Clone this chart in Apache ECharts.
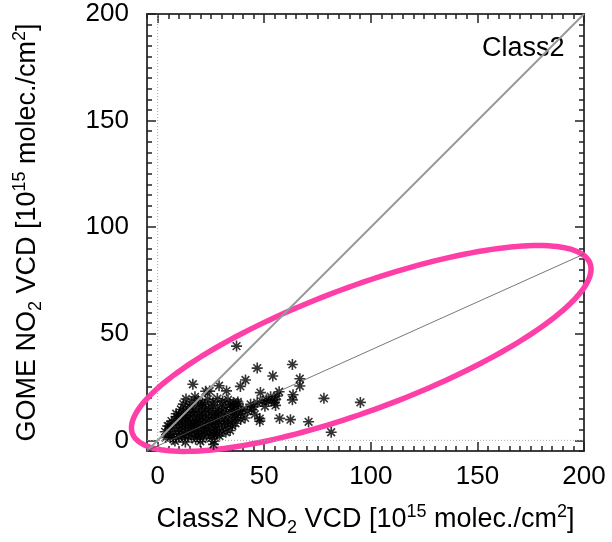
<!DOCTYPE html>
<html>
<head>
<meta charset="utf-8">
<script src="https://cdn.jsdelivr.net/npm/echarts@6/dist/echarts.min.js"></script>
<style>
html, body { margin: 0; padding: 0; background: #fff; }
#chart { width: 612px; height: 542px; }
</style>
</head>
<body>
<div id="chart"></div>
<script>
// axis ticks
var majorTicks = [0, 50, 100, 150, 200];
var axisMin = -5;
var axisMax = 200;

// Class2 vs GOME NO2 VCD points [class2, gome]
var points = [
  [37.0, 44.2], [16.5, 26.3], [46.7, 33.9], [63.2, 35.6], [54.0, 30.2], [41.2, 28.3],
  [38.8, 25.3], [66.7, 28.9], [66.7, 25.5], [28.8, 25.6], [32.3, 23.2], [24.4, 23.1],
  [13.3, 19.4], [17.5, 20.4], [22.5, 23.0], [78.0, 19.7], [95.1, 17.8], [63.5, 21.4],
  [63.2, 19.0], [57.0, 22.8], [54.9, 19.0], [48.2, 22.4], [50.3, 16.0], [46.7, 17.7],
  [45.1, 15.8], [47.9, 10.2], [47.9, 9.0], [57.2, 10.3], [62.3, 9.7], [70.8, 8.7],
  [81.4, 3.8], [37.6, 18.0], [37.8, 17.2], [43.6, 16.9], [45.6, 12.2], [10.9, 14.5],
  [4.7, 6.7], [7.4, 0.5], [26.4, -0.3], [26.2, -1.9], [17.8, 0.5], [8.1, -0.3],
  [3.7, 1.3], [8.7, 12.5], [5.3, 6.7], [55.3, 16.4], [54.8, 17.7],
  [52, 18.5], [53, 20.5], [56, 20.8], [51, 19], [49, 18.2], [44, 14.5], [42, 13.8],
  [40, 14.6], [39, 12.5], [36, 13.5], [35, 15.5],
  [10, 1.5], [12, 0.8], [14, 2], [16, 1.2], [19, 1.8], [21, 0.6], [23, 2.2], [25, 1.0],
  [26.5, 2.5], [13, -0.8], [20, -0.5], [6, 1.5],
  [7, 3], [9, 4], [11, 2.8], [12.5, 4.5], [14.5, 3.5], [16, 4.8], [17.5, 3], [19, 4.2],
  [20.5, 2.9], [22, 4.6], [24, 3.5], [26, 4.2], [28, 3], [30, 4.5], [27, 5], [32, 3.8],
  [34, 4.6], [29, 2],
  [6, 6], [8, 7], [10, 5.5], [11.5, 7.5], [13, 6.2], [14.5, 7.8], [16, 5.8], [17, 7.2],
  [18.5, 6.3], [20, 7.9], [21.5, 5.6], [23, 7.1], [24.5, 6], [26, 7.6], [27.5, 6.4],
  [29, 7.8], [31, 6.5], [33, 7.4], [35, 6.8], [36.5, 8],
  [8, 9.5], [10, 8.5], [11.5, 10.4], [13, 9], [14, 10.8], [15.5, 8.7], [17, 10], [18, 8.4],
  [19.5, 9.6], [21, 10.9], [22.5, 8.9], [24, 10.2], [25.5, 8.6], [27, 10.6], [28.5, 9.2],
  [30, 10.9], [31.5, 8.8], [33, 10.1], [35, 9.5], [37, 10.8], [39, 9.8], [41, 10.5],
  [10, 12], [12, 13], [13.5, 11.5], [15, 13.6], [16.5, 12], [18, 13.2], [19.5, 11.6],
  [21, 13.5], [22.5, 12.2], [24, 13.8], [25.5, 11.7], [27, 13], [28.5, 12.3], [30, 13.9],
  [32, 12.6], [34, 13.4], [36, 12], [38, 14.2],
  [13, 15], [15, 16], [17, 14.6], [19, 16.5], [20.5, 15.2], [22, 16.8], [24, 15], [26, 16.3],
  [28, 14.8], [30, 16.6], [32, 15.4], [34, 16.9], [36, 15.8],
  [16, 18], [19, 18.8], [21, 17.5], [23.5, 19.3], [26, 18], [28, 19.6], [30.5, 18.4],
  [33, 19], [35.5, 17.8],
  [5, 3], [3.5, 4], [6.5, 9], [9, 11], [12, 17]
];

// 1:1 line and fitted line end points
var oneToOne = [[-5, -5], [200, 200]];
var fitLine = [[-5, -4.85], [200, 87.4]];
// dotted zero lines
var zeroX = [[0, -5], [0, 200]];
var zeroY = [[-5, 0], [200, 0]];

// highlight ellipse: center, semi axes (data units), angle in degrees
var ellipseCenter = [95.5, 43.1];
var ellipseAxes = [114.5, 29.0];
var ellipseAngle = 20.4;

var font = 'Liberation Sans, Arial, sans-serif';
var nameRich = {
    n: { fontSize: 27, fontFamily: font, color: '#000', lineHeight: 34 },
    sub: { fontSize: 18, fontFamily: font, color: '#000', lineHeight: 34, verticalAlign: 'bottom', padding: [12, 0, 0, 0] },
    sup: { fontSize: 18, fontFamily: font, color: '#000', lineHeight: 34, verticalAlign: 'top', padding: [0, 0, 12, 0] }
};
var axisName = function (who) {
    return '{n|' + who + ' NO}{sub|2}{n| VCD [10}{sup|15}{n| molec./cm}{sup|2}{n|]}';
};

var chart = echarts.init(document.getElementById('chart'));

// gnuplot-like box: major + minor ticks on all four sides, pointing inward
function makeAxis(type, pos, major, withLabel) {
    var ax = {
        type: 'value',
        position: pos,
        min: axisMin,
        max: axisMax,
        interval: 5,
        splitLine: { show: false },
        axisLine: { show: true, onZero: false, lineStyle: { color: '#333', width: 1.5 } },
        axisTick: { show: true, inside: true, length: major ? 9 : 5, lineStyle: { color: '#222', width: 1.5 } },
        axisLabel: { show: false }
    };
    if (major) {
        ax.axisTick.customValues = majorTicks.slice();
        ax.axisLabel = {
            show: !!withLabel,
            customValues: majorTicks.slice(),
            fontSize: 26,
            fontFamily: font,
            color: '#000',
            margin: type === 'x' ? 13 : 18
        };
    }
    return ax;
}

var xMain = makeAxis('x', 'bottom', true, true);
xMain.name = axisName('Class2');
xMain.nameLocation = 'middle';
xMain.nameGap = 52;
xMain.nameTextStyle = { rich: nameRich };

var yMain = makeAxis('y', 'left', true, true);
yMain.name = axisName('GOME');
yMain.nameLocation = 'middle';
yMain.nameGap = 102;
yMain.nameRotate = 90;
yMain.nameTextStyle = { rich: nameRich };

var option = {
    animation: false,
    backgroundColor: '#fff',
    grid: { left: 147, right: 28, top: 14, bottom: 91 },
    xAxis: [xMain, makeAxis('x', 'bottom', false), makeAxis('x', 'top', true, false), makeAxis('x', 'top', false)],
    yAxis: [yMain, makeAxis('y', 'left', false), makeAxis('y', 'right', true, false), makeAxis('y', 'right', false)],
    graphic: [{
        type: 'text',
        left: 482,
        top: 35,
        style: { text: 'Class2', fontSize: 27, fontFamily: font, fill: '#000' }
    }],
    series: [
        {
            type: 'line', data: zeroX, symbol: 'none', silent: true,
            lineStyle: { color: '#aaa', width: 1, type: [1, 2] }
        },
        {
            type: 'line', data: zeroY, symbol: 'none', silent: true,
            lineStyle: { color: '#aaa', width: 1, type: [1, 2] }
        },
        {
            type: 'scatter',
            data: points,
            symbol: 'path://M0,5L10,5M5,0L5,10M1.5,1.5L8.5,8.5M1.5,8.5L8.5,1.5',
            symbolSize: 11,
            itemStyle: { color: 'none', borderColor: '#000', borderWidth: 1.6 }
        },
        {
            type: 'line', data: oneToOne, symbol: 'none', silent: true,
            lineStyle: { color: '#999', width: 2 }
        },
        {
            type: 'line', data: fitLine, symbol: 'none', silent: true,
            lineStyle: { color: '#555', width: 0.8 }
        },
        {
            type: 'custom',
            data: [ellipseCenter],
            clip: false,
            silent: true,
            renderItem: function (params, api) {
                var pts = [];
                var rad = ellipseAngle * Math.PI / 180;
                for (var i = 0; i < 180; i++) {
                    var t = i / 180 * 2 * Math.PI;
                    var ex = ellipseAxes[0] * Math.cos(t), ey = ellipseAxes[1] * Math.sin(t);
                    pts.push(api.coord([
                        ellipseCenter[0] + ex * Math.cos(rad) - ey * Math.sin(rad),
                        ellipseCenter[1] + ex * Math.sin(rad) + ey * Math.cos(rad)
                    ]));
                }
                return {
                    type: 'polygon',
                    shape: { points: pts },
                    style: { fill: 'none', stroke: '#ff3fa8', lineWidth: 5.5 }
                };
            }
        }
    ]
};
chart.setOption(option);
</script>
</body>
</html>
